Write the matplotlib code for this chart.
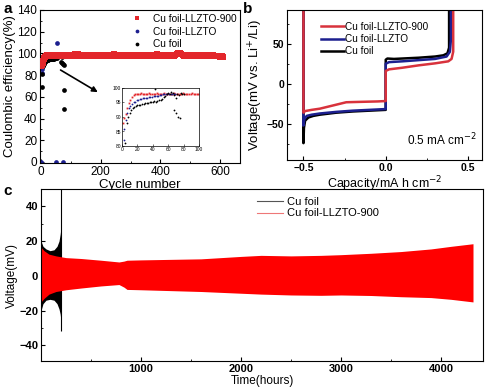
import matplotlib
matplotlib.use("Agg")
import matplotlib.pyplot as plt
from matplotlib.lines import Line2D
from matplotlib.ticker import MultipleLocator

plt.rcParams['font.family'] = ['Liberation Sans', 'DejaVu Sans']

# ---- panel a: coulombic efficiency ----
red_cyc = list(range(1, 100, 2)) + list(range(105, 611, 5))
red_ce = [88, 89.5, 91, 93, 94.8, 96, 97, 97.5, 97.8, 98,
          98.1, 97.9, 98.2, 98.0, 98.1, 97.9, 98.0, 98.2, 98.1, 97.9,
          98.0, 98.1, 98.2, 98.0, 97.9, 98.1, 98.0, 98.2, 98.1, 98.0,
          97.9, 98.1, 98.0, 98.2, 98.1, 97.9, 98.0, 98.1, 98.0, 98.2,
          98.1, 98.0, 97.9, 98.1, 98.0, 98.2, 98.1, 98.0, 97.9, 98.1,
          98.3, 97.6, 99.0, 99.8, 99.2, 97.8, 98.4, 97.5, 98.6, 97.9,
          98.2, 97.4, 98.8, 97.7, 98.3, 97.6, 98.5, 97.9, 98.7, 97.5,
          98.2, 97.8, 98.6, 97.4, 98.4, 98.0, 97.6, 98.9, 99.4, 98.1,
          97.7, 98.5, 97.5, 98.3, 97.9, 98.7, 97.6, 98.2, 98.8, 97.8,
          98.4, 97.5, 98.9, 98.0, 97.7, 98.6, 97.9, 98.3, 97.6, 98.5,
          98.1, 97.7, 98.8, 97.9, 98.4, 97.6, 98.2, 99.2, 98.0, 97.5,
          98.6, 97.8, 98.3, 97.6, 98.7, 98.0, 97.7, 98.5, 97.9, 98.4,
          99.0, 100.2, 100.6, 99.4, 98.2, 97.7, 98.6, 97.9, 98.3, 97.5,
          98.4, 97.8, 98.1, 97.6, 98.5, 97.7, 98.2, 97.4, 98.0, 97.6,
          98.3, 97.5, 97.9, 97.3, 98.1, 97.4, 97.8, 97.2, 97.6, 97.1,
          97.5, 96.9]

blue_cyc = list(range(3, 70, 2)) + [3, 1, 52, 73, 50]
blue_ce = [86, 89, 91.5, 93, 93.8, 94.5, 95, 95.3, 95.8, 96,
           96.1, 96.3, 96.4, 96.5, 96.6, 96.7, 96.8, 96.9, 97, 97.1,
           97.2, 97.3, 97.4, 97.5, 97.6, 97.8, 98, 98, 98.1, 98,
           98.1, 98, 98.1, 98,
           82, 0, 110, 0, 0]

black_cyc = list(range(4, 81, 2)) + [3, 43, 68, 70, 73, 75, 76, 78]
black_ce = [81, 88, 90, 91.5, 92.3, 93, 93.3, 93.8, 94, 94.3,
            94.2, 94.6, 94.5, 94.8, 94.9, 94.7, 95, 95.2, 95.1, 95.4,
            95.3, 95.6, 95.8, 96, 96.2, 96.8, 97.3, 97.8, 98.2, 97.8,
            98.5, 98.2, 97.5, 96.5, 98, 97.6, 98.2, 97.9, 98.1,
            69, 99.8, 92.5, 91.5, 90, 89.5, 66, 49]

# ---- panel b: voltage profiles ----
b_black_x = [-0.5, -0.5, -0.497, -0.49, -0.47, -0.44, -0.4, -0.3, -0.2, -0.1, 0.0,
             0.0, 0.01, 0.05, 0.1, 0.2, 0.3, 0.35, 0.375, 0.385, 0.385]
b_black_y = [95, -74, -55, -46, -42, -40, -38.5, -36, -34.5, -33.5, -32.5,
             30, 31.5, 31, 31.5, 32.5, 34, 35.5, 38, 45, 95]
b_blue_x = [-0.5, -0.5, -0.495, -0.48, -0.45, -0.4, -0.3, -0.2, -0.1, 0.0,
            0.0, 0.02, 0.1, 0.2, 0.3, 0.37, 0.39, 0.396, 0.396]
b_blue_y = [95, -52, -44, -40, -38.5, -37, -35, -33.5, -32.5, -31.5,
            25, 27, 28, 29.5, 31, 34, 40, 55, 95]
b_red_x = [-0.5, -0.5, -0.49, -0.45, -0.4, -0.3, -0.24, -0.15, -0.05, 0.0,
           0.0, 0.02, 0.1, 0.2, 0.3, 0.38, 0.4, 0.41, 0.41]
b_red_y = [95, -36, -34, -32.5, -31, -26, -23, -22.5, -22, -21.5,
           16, 18, 20, 23, 25.5, 28, 31, 40, 95]

# ---- panel c: long-term cycling envelopes ----
c_black_t = [0, 20, 50, 90, 130, 160, 180, 192, 196]
c_black_hi = [20, 17, 15.5, 14.5, 15, 17, 20, 24, 26]
c_black_lo = [-20, -16, -14, -13.5, -14, -16, -19, -22, -24]
spike_t, spike_lo, spike_hi = 197, -32, 50

c_red_t = [0, 30, 80, 150, 250, 400, 600, 780, 830, 860, 1000, 1300, 1600, 1800,
           2000, 2200, 2500, 2800, 3000, 3300, 3600, 3900, 4100, 4320]
c_red_hi = [16.5, 14.5, 12.5, 11.5, 10.5, 10, 9, 8, 8.5, 9, 9.2, 9.5, 9.8, 10.5,
            11.2, 11.8, 11.5, 11.8, 12.2, 13, 14, 15.5, 17, 18.5]
c_red_lo = [-15, -13, -10.5, -9, -8, -7, -5.8, -5, -6.5, -7.8, -8, -8.5, -9, -9.5,
            -10, -10.5, -11, -11.2, -11, -11.3, -12, -12.5, -13.5, -15]

W, H = 486, 392
fig = plt.figure(figsize=(W / 100, H / 100), dpi=100)

def box(x0, y0, x1, y1):
    return [x0 / W, 1 - y1 / H, (x1 - x0) / W, (y1 - y0) / H]

RED_A = '#e3262b'
BLUE = '#1c1f8f'

# panel a
ax1 = fig.add_axes(box(40, 10, 240, 163))
ax1.plot(red_cyc, red_ce, 's', color=RED_A, ms=3.8, mew=0, label='Cu foil-LLZTO-900', zorder=3)
ax1.plot(blue_cyc, blue_ce, 'o', color=BLUE, ms=3.4, mew=0, label='Cu foil-LLZTO', zorder=2)
ax1.plot(black_cyc, black_ce, 'o', color='black', ms=3.4, mew=0, label='Cu foil', zorder=2)
ax1.set_xlim(-4, 667)
ax1.set_ylim(-1, 140)
ax1.set_xticks([0, 200, 400, 600])
ax1.xaxis.set_minor_locator(MultipleLocator(100))
ax1.set_yticks(range(0, 141, 20))
ax1.yaxis.set_minor_locator(MultipleLocator(10))
ax1.tick_params(direction='in', labelsize=8.5, length=3, pad=2)
ax1.tick_params(which='minor', direction='in', length=1.5)
ax1.set_xlabel('Cycle number', fontsize=9.5, labelpad=1)
ax1.set_ylabel('Coulombic efficiency(%)', fontsize=9.5, labelpad=1)
ax1.legend(loc='upper right', fontsize=7.3, frameon=False, handletextpad=0.6,
           borderpad=0.2, labelspacing=0.25, markerscale=0.8,
           bbox_to_anchor=(1.02, 1.02))
ax1.annotate('', xy=(198, 63), xytext=(57, 86),
             arrowprops=dict(arrowstyle='-|>', color='black', lw=1.2, mutation_scale=8))

axi = fig.add_axes(box(122, 88, 199, 146))
axi.plot(red_cyc, red_ce, 's', color=RED_A, ms=1.3, mew=0)
axi.plot(blue_cyc, blue_ce, 'o', color=BLUE, ms=1.3, mew=0)
axi.plot(black_cyc, black_ce, 'o', color='black', ms=1.3, mew=0)
axi.set_xlim(0, 100)
axi.set_ylim(80, 100)
axi.set_xticks(range(0, 101, 20))
axi.set_yticks(range(80, 101, 5))
axi.tick_params(direction='in', labelsize=3.5, length=1.2, pad=0.8, width=0.4)
for s in axi.spines.values():
    s.set_linewidth(0.5)

# panel b
ax2 = fig.add_axes(box(287, 10, 482, 160))
ax2.plot(b_black_x, b_black_y, color='black', lw=1.8, label='Cu foil')
ax2.plot(b_blue_x, b_blue_y, color=BLUE, lw=1.8, label='Cu foil-LLZTO')
ax2.plot(b_red_x, b_red_y, color='#d8323c', lw=1.8, label='Cu foil-LLZTO-900')
ax2.set_xlim(-0.6, 0.585)
ax2.set_ylim(-95, 92)
ax2.set_xticks([-0.5, 0.0, 0.5])
ax2.xaxis.set_minor_locator(MultipleLocator(0.25))
ax2.set_yticks([-50, 0, 50])
ax2.yaxis.set_minor_locator(MultipleLocator(25))
ax2.tick_params(direction='in', labelsize=7.5, length=3, pad=2)
ax2.tick_params(which='minor', direction='in', length=1.5)
for lab in ax2.get_xticklabels() + ax2.get_yticklabels():
    lab.set_fontweight('bold')
ax2.set_xlabel('Capacity/mA h cm$^{-2}$', fontsize=9, labelpad=1)
ax2.set_ylabel('Voltage(mV vs. Li$^{+}$/Li)', fontsize=9.5, labelpad=1)
h, l = ax2.get_legend_handles_labels()
ax2.legend(h[::-1], l[::-1], loc='upper left', fontsize=7.2, frameon=False,
           handlelength=2.3, handletextpad=0.1, borderpad=0.2, labelspacing=0.25,
           bbox_to_anchor=(0.14, 0.97))
ax2.text(0.97, 0.08, '0.5 mA cm$^{-2}$', transform=ax2.transAxes, ha='right',
         va='bottom', fontsize=8.5)

# panel c
ax3 = fig.add_axes(box(41, 189, 483, 361))
ax3.fill_between(c_black_t, c_black_lo, c_black_hi, color='black', lw=0, zorder=1)
ax3.vlines(spike_t, spike_lo, spike_hi, color='black', lw=0.8, zorder=1)
ax3.fill_between(c_red_t, c_red_lo, c_red_hi, color='#ff0000', lw=0, zorder=2)
ax3.set_xlim(0, 4420)
ax3.set_ylim(-49, 50)
ax3.set_xticks([1000, 2000, 3000, 4000])
ax3.xaxis.set_minor_locator(MultipleLocator(500))
ax3.set_yticks([-40, -20, 0, 20, 40])
ax3.yaxis.set_minor_locator(MultipleLocator(10))
ax3.tick_params(direction='in', labelsize=8, length=3, pad=2)
ax3.tick_params(which='minor', direction='in', length=1.5)
for lab in ax3.get_xticklabels() + ax3.get_yticklabels():
    lab.set_fontweight('bold')
ax3.set_xlabel('Time(hours)', fontsize=8.5, labelpad=1)
ax3.set_ylabel('Voltage(mV)', fontsize=8.5, labelpad=1)
handles = [Line2D([], [], color='#555555', lw=0.8), Line2D([], [], color='#ee7777', lw=0.8)]
ax3.legend(handles, ['Cu foil', 'Cu foil-LLZTO-900'], loc='upper left', fontsize=8,
           frameon=False, handlelength=2.4, handletextpad=0.3, borderpad=0.2,
           labelspacing=0.15, bbox_to_anchor=(0.47, 1.0))

for lab, x, y in [('a', 3, 2), ('b', 243, 2), ('c', 3, 184)]:
    fig.text(x / W, 1 - y / H, lab, fontsize=11, fontweight='bold', va='top', ha='left')

fig.savefig('out.png', dpi=100)
